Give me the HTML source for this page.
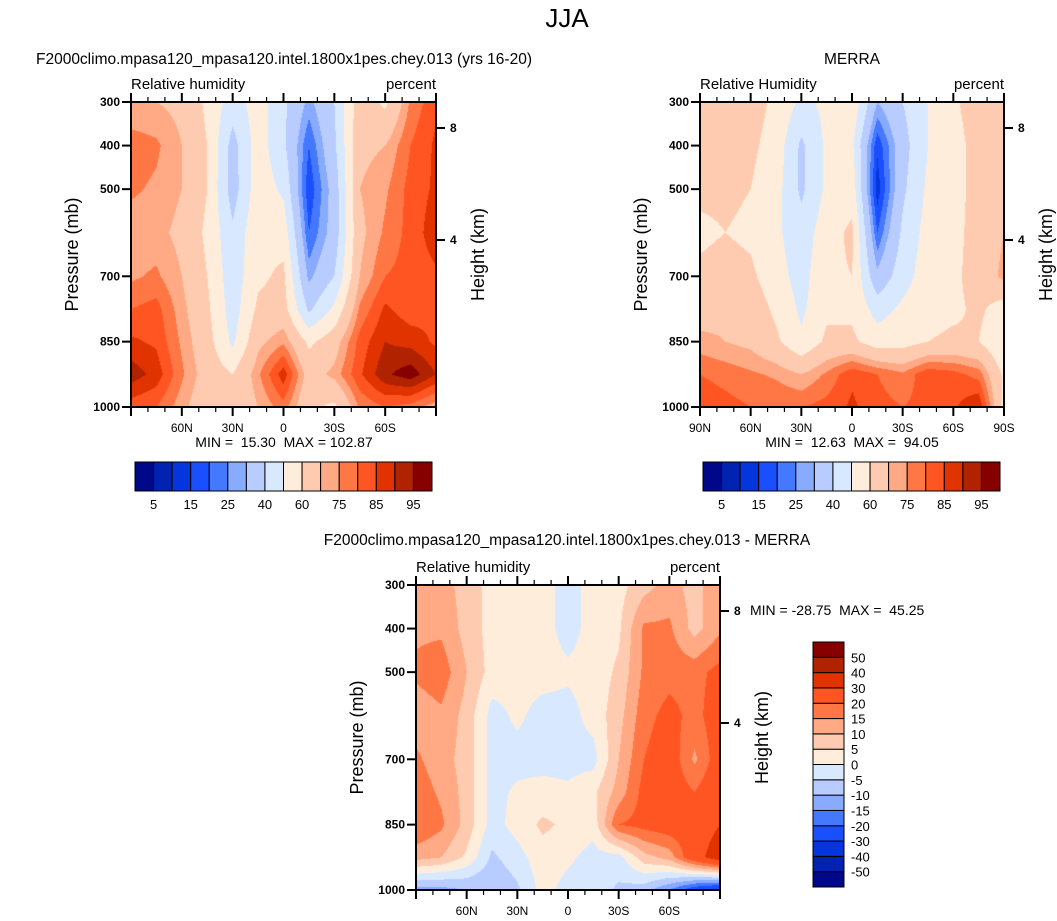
<!DOCTYPE html>
<html><head><meta charset="utf-8">
<style>
body{margin:0;background:#fff;width:1057px;height:921px;overflow:hidden;position:relative;font-family:"Liberation Sans",Arial,sans-serif}
canvas{position:absolute}
svg{position:absolute;left:0;top:0}
text{white-space:pre}
</style></head>
<body>
<canvas id="c1" width="305" height="305" style="left:131px;top:102px"></canvas>
<canvas id="c2" width="304" height="305" style="left:700px;top:102px"></canvas>
<canvas id="c3" width="304" height="305" style="left:416px;top:585px"></canvas>
<svg id="s" width="1057" height="921"></svg>
<script>
// ---- data ----
const lats = [90,75,60,45,30,15,0,-15,-30,-45,-60,-75,-90];
const levels = [300,400,500,600,700,775,850,925,1000];
const rhModel = [
[70,70,68,58,45,55,42,28,40,66,58,76,84],
[78,76,70,60,36,55,42,20,38,68,70,80,86],
[76,74,70,60,35,56,48,16,34,70,74,82,86],
[72,72,68,58,42,58,56,20,34,68,76,82,88],
[74,76,70,60,44,58,62,28,40,70,80,82,84],
[80,82,72,62,45,62,64,38,52,76,86,82,84],
[86,84,74,64,48,68,74,58,66,82,90,88,84],
[93,88,76,66,60,74,88,66,72,84,94,98,90],
[82,80,72,64,60,70,78,62,58,76,80,78,72]];
const rhMerra = [
[60,62,64,58,48,52,58,30,40,50,58,66,66],
[64,64,62,56,38,52,52,16,36,50,56,64,66],
[62,62,60,54,38,52,56,12,38,52,56,64,66],
[58,60,58,52,44,56,62,20,42,54,57,64,70],
[62,64,62,54,46,58,60,32,46,55,58,64,72],
[66,68,66,58,48,58,58,46,52,56,58,62,55],
[72,70,68,62,52,62,62,55,56,60,62,60,50],
[80,78,76,74,70,76,84,80,76,84,82,78,58],
[84,82,80,80,80,82,86,82,80,82,84,90,58]];
const rhDiff = [
[14,12,8,3,2,2,-2,2,3,8,12,8,14],
[14,14,8,3,2,2,-2,2,4,16,16,8,14],
[16,18,10,3,2,2,1,2,6,16,18,18,22],
[12,14,8,-2,1,-2,-2,2,8,18,22,18,24],
[16,12,8,-2,-2,-2,-2,-2,10,20,24,14,24],
[18,14,8,-2,1,2,1,4,12,22,24,20,26],
[20,16,8,-2,2,6,4,2,20,22,24,24,30],
[12,10,4,-6,-2,3,1,-2,-2,8,12,26,36],
[-12,-12,-10,-10,-6,2,-2,-2,-6,-8,-15,-25,-30]];
const absLevels = [5,10,15,20,25,30,40,50,60,70,75,80,85,90,95];
const absLabels = ["5","15","25","40","60","75","85","95"];
const diffLevels = [-50,-40,-30,-20,-15,-10,-5,0,5,10,15,20,30,40,50];
const diffLabels = ["-50","-40","-30","-20","-15","-10","-5","0","5","10","15","20","30","40","50"];
const palette = ["#00088a","#0022b0","#0535dd","#1a4fff","#4479ff","#88aaff","#b8ccff","#d8e9ff","#ffeddc","#ffcbb0","#ffaa85","#ff7744","#ff5522","#e03300","#b02200","#860000"];

function hex(c){return [parseInt(c.substr(1,2),16),parseInt(c.substr(3,2),16),parseInt(c.substr(5,2),16)];}
const palRGB = palette.map(hex);
function colorIdx(v,lv){let i=0;while(i<lv.length&&v>=lv[i])i++;return i;}
function sample(grid,fx,p){
  let r=0;while(r<levels.length-2&&p>levels[r+1])r++;
  const t=Math.min(1,Math.max(0,(p-levels[r])/(levels[r+1]-levels[r])));
  const c=Math.min(lats.length-2,Math.floor(fx)); const u=fx-c;
  const a=grid[r][c]*(1-u)+grid[r][c+1]*u, b=grid[r+1][c]*(1-u)+grid[r+1][c+1]*u;
  return a*(1-t)+b*t;
}
function drawField(id,grid,lv){
  const cv=document.getElementById(id),ctx=cv.getContext('2d'),W=cv.width,H=cv.height;
  const img=ctx.createImageData(W,H);
  for(let y=0;y<H;y++){const p=300+700*(y+0.5)/H;
    for(let x=0;x<W;x++){const lat=90-180*(x+0.5)/W;const fx=(90-lat)/15;
      const c=palRGB[colorIdx(sample(grid,fx,p),lv)];const k=(y*W+x)*4;
      img.data[k]=c[0];img.data[k+1]=c[1];img.data[k+2]=c[2];img.data[k+3]=255;}}
  ctx.putImageData(img,0,0);
}
drawField('c1',rhModel,absLevels);
drawField('c2',rhMerra,absLevels);
drawField('c3',rhDiff,diffLevels);

const S=document.getElementById('s'),NS='http://www.w3.org/2000/svg';
function el(tag,attrs,txt){const e=document.createElementNS(NS,tag);for(const k in attrs)e.setAttribute(k,attrs[k]);if(txt!==undefined)e.textContent=txt;S.appendChild(e);return e;}
function text(x,y,s,size,anchor,name,extra){const t=el('text',Object.assign({x:x,y:y,'font-size':size,'text-anchor':anchor||'start','font-family':'Liberation Sans, Arial, sans-serif'},extra||{}),s);
  
  return t;}

const tickLat=[60,30,0,-30,-60];
const tickLatLbl=["60N","30N","0","30S","60S"];
const presTicks=[300,400,500,700,850,1000];
function panel(x0,y0,w,h,name,full,hlbl,hTick){
  const X=lat=>x0+(90-lat)/180*w, Y=p=>y0+(p-300)/700*h;
  const g=el('rect',{x:x0,y:y0,width:w,height:h,fill:'none',stroke:'#000','stroke-width':2});
  
  
  for(let lat=-90;lat<=90;lat+=10){const major=lat%30===0;const L=major?9:5;const x=X(lat);
    el('line',{x1:x,x2:x,y1:y0+h,y2:y0+h+L,stroke:'#000','stroke-width':major?2:1.2});
    el('line',{x1:x,x2:x,y1:y0,y2:y0-L,stroke:'#000','stroke-width':major?2:1.2});}
  const lL=full?[90,60,30,0,-30,-60,-90]:tickLat, lT=full?["90N","60N","30N","0","30S","60S","90S"]:tickLatLbl;
  lL.forEach((lat,i)=>text(X(lat),y0+h+25,lT[i],12,'middle',name+'-x-tick-label'));
  presTicks.forEach(p=>{el('line',{x1:x0-9,x2:x0,y1:Y(p),y2:Y(p),stroke:'#000','stroke-width':2});
    text(x0-11,Y(p)+4,String(p),12,'end',name+'-y-tick-label',{'font-weight':'bold'});});
  hTick.forEach((hk,i)=>{const y=y0+[26,138][i];el('line',{x1:x0+w,x2:x0+w+9,y1:y,y2:y,stroke:'#000','stroke-width':2});
    text(x0+w+14,y+4,hk,12,'start',name+'-height-tick-label',{'font-weight':'bold'});});
  text(x0,y0-13,hlbl,15,'start',name+'-variable-label');
  text(x0+w,y0-13,'percent',15,'end',name+'-units-label');
  text(0,0,'Pressure (mb)',18,'middle',name+'-y-axis-title',{transform:`translate(${x0-53},${y0+h/2}) rotate(-90)`});
  text(0,0,'Height (km)',18,'middle',name+'-right-axis-title',{transform:`translate(${x0+w+48},${y0+h/2}) rotate(-90)`});
}
text(567,27,'JJA',26,'middle','figure-title');
text(284,64,'F2000climo.mpasa120_mpasa120.intel.1800x1pes.chey.013 (yrs 16-20)',15.5,'middle','model-panel-title');
text(852,64,'MERRA',15.5,'middle','merra-panel-title');
text(567,545,'F2000climo.mpasa120_mpasa120.intel.1800x1pes.chey.013 - MERRA',15.5,'middle','diff-panel-title');
panel(131,102,305,305,'model',false,'Relative humidity',['8','4']);
panel(700,102,304,305,'merra',true,'Relative Humidity',['8','4']);
panel(416,585,304,305,'diff',false,'Relative humidity',['8','4']);
text(284,447,'MIN =  15.30  MAX = 102.87',14,'middle','model-min-max');
text(852,447,'MIN =  12.63  MAX =  94.05',14,'middle','merra-min-max');
text(750,615,'MIN = -28.75  MAX =  45.25',14,'start','diff-min-max');

function hbar(x0,y0,w,h,name){const bw=w/palette.length;
  palette.forEach((c,i)=>{const r=el('rect',{x:x0+i*bw,y:y0,width:bw,height:h,fill:c,stroke:'#000','stroke-width':1});
    
    });
  absLabels.forEach((s,i)=>text(x0+(2*i+1)*bw,y0+h+18,s,13,'middle',name+'-label'));}
hbar(135,462,297,29,'model-colorbar');
hbar(703,462,297,29,'merra-colorbar');
(function(){const x0=813,y0=642,w=31,h=245,bh=h/palette.length;
  palette.forEach((c,i)=>{const r=el('rect',{x:x0,y:y0+h-(i+1)*bh,width:w,height:bh,fill:c,stroke:'#000','stroke-width':1});
    
    });
  diffLabels.forEach((s,i)=>text(x0+38,y0+h-(i+1)*bh+5,s,13,'start','diff-colorbar-label'));})();
</script>
</body></html>
